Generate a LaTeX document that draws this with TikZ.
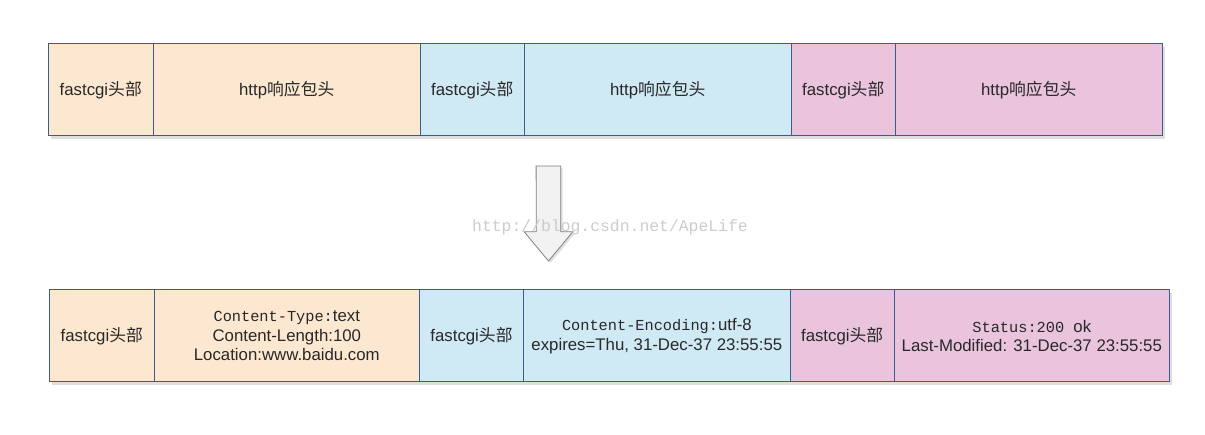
\documentclass[tikz,border=0pt]{standalone}
\usepackage{fontspec}
\setmainfont{Liberation Sans}
\setmonofont{Liberation Mono}
\newfontfamily\cjk{Noto Sans CJK SC}
\usetikzlibrary{shadows}
\definecolor{peach}{RGB}{252,232,208}
\definecolor{sky}{RGB}{208,234,245}
\definecolor{rose}{RGB}{234,196,221}
\definecolor{edge}{RGB}{59,92,140}
\definecolor{ink}{RGB}{40,40,40}
\newcommand{\zh}[1]{{\cjk #1}}
\newcommand{\mono}[1]{{\ttfamily\fontsize{15.3}{19.5}\selectfont #1}}

\begin{document}
\begin{tikzpicture}[x=1pt,y=-1pt,
    cell/.style={rectangle,draw=edge,line width=1pt,inner sep=0pt,outer sep=0pt,
        minimum height=92pt,text=ink,align=center,
        font=\fontsize{16.8}{19.5}\selectfont,
        drop shadow={shadow xshift=2.5pt,shadow yshift=-3pt,fill=black!13,opacity=1}},
    head/.style={cell,minimum width=105pt},
    arrowbody/.style={draw=black!50,fill=black!5,line width=0.8pt,
        drop shadow={shadow xshift=2pt,shadow yshift=-2pt,fill=black!12,opacity=1}}]
    \useasboundingbox (0,0) rectangle (1205,435);

    % packet before parsing
    \node[head,fill=peach,minimum width=105.5pt] (A1) at (100.75,90) {fastcgi\zh{头部}};
    \node[cell,fill=peach,minimum width=266.5pt] (A2) at (286.75,90) {http\zh{响应包头}};
    \node[head,fill=sky,minimum width=104.5pt] (B1) at (472.25,90) {fastcgi\zh{头部}};
    \node[cell,fill=sky,minimum width=266.5pt] (B2) at (657.75,90) {http\zh{响应包头}};
    \node[head,fill=rose,minimum width=104.5pt] (C1) at (843.25,90) {fastcgi\zh{头部}};
    \node[cell,fill=rose,minimum width=266.5pt] (C2) at (1028.75,90) {http\zh{响应包头}};

    % arrow
    \coordinate (tail) at (548.4,166);
    \draw[arrowbody] (tail) ++(-12.3,0) -- ++(24.6,0) -- ++(0,65.7) -- ++(12.2,0)
        -- ++(-24.4,29.3) -- ++(-24.4,-29.3) -- ++(12.2,0) -- cycle;

    % packet after parsing
    \node[head,fill=peach] (D1) at (101.8,336) {fastcgi\zh{头部}};
    \node[cell,fill=peach,minimum width=265pt] (D2) at (286.8,336)
        {\mono{Content-Type:}text\\Content-Length:100\\Location:www.baidu.com};
    \node[head,fill=sky,minimum width=104.4pt] (E1) at (471.5,336) {fastcgi\zh{头部}};
    \node[cell,fill=sky,minimum width=266.3pt] (E2) at (656.85,336)
        {\mono{Content-Encoding:}utf-8\\expires=Thu, 31-Dec-37 23:55:55};
    \node[head,fill=rose,minimum width=104.3pt] (F1) at (842.15,336) {fastcgi\zh{头部}};
    \node[cell,fill=rose,minimum width=275pt] (F2) at (1031.8,336)
        {\mono{Status:200 }ok\\Last-Modified: 31-Dec-37 23:55:55};

    \node[font=\ttfamily\fontsize{16.4}{18}\selectfont,text=black!20] (mark) at (610,227)
        {http://blog.csdn.net/ApeLife};
\end{tikzpicture}
\end{document}
